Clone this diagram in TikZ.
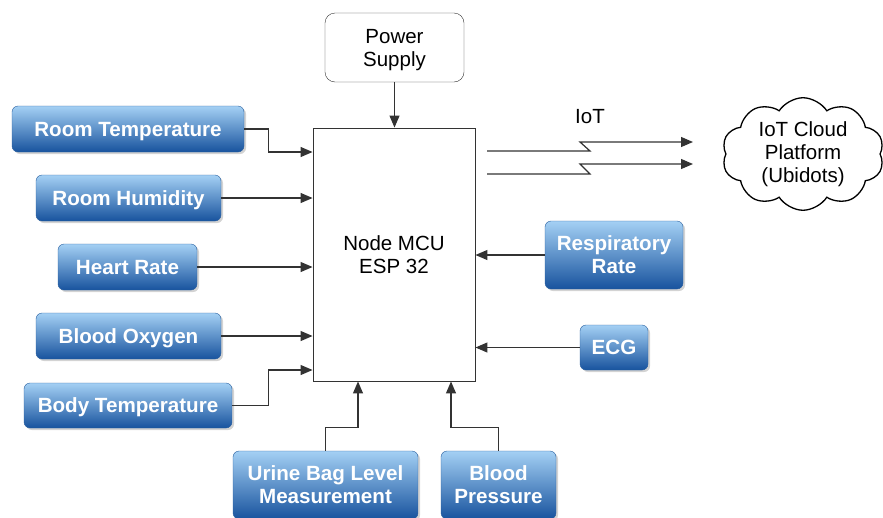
\documentclass[tikz,border=0pt]{standalone}
\usepackage{fontspec}
\setmainfont{Liberation Sans}
\usetikzlibrary{shapes.symbols, arrows.meta, shadows}

\definecolor{boxtop}{HTML}{A4D0F4}
\definecolor{boxmid}{HTML}{3F86D6}
\definecolor{boxbot}{HTML}{18539E}
\definecolor{boxline}{HTML}{2A5F9E}
\definecolor{wire}{HTML}{333333}

\tikzset{
  sensor/.style = {draw = boxline, rounded corners = 6pt, top color = boxtop, middle color = boxmid, bottom color = boxbot,
    text = white, font = \fontsize{20.6}{23}\selectfont\bfseries, align = center, inner sep = 0pt, text depth = 0pt,
    drop shadow = {opacity = 0.35, shadow xshift = 2pt, shadow yshift = -2pt}},
  plain/.style = {draw = wire, font = \fontsize{20.5}{23}\selectfont, align = center, inner sep = 0pt, text depth = 0pt},
  arr/.style = {draw = wire, line width = 1.2pt, -{Triangle[length = 12pt, width = 10pt]}},
}

\begin{document}
\begin{tikzpicture}[x = 1pt, y = -1pt]
\useasboundingbox (0,0) rectangle (883,517);

% main unit and supply
\node[plain, line width = 0.9pt, minimum width = 162pt, minimum height = 253pt] (mcu) at (394,254.5) {Node MCU\\ESP 32};
\node[plain, rounded corners = 10pt, minimum width = 139pt, minimum height = 69pt] (power) at (394.5,47.5) {Power\\Supply};
\draw[arr] (power.south) -- (power.south |- mcu.north);

% sensors on the left
\node[sensor, minimum width = 232pt, minimum height = 46pt] (rtemp) at (128,129) {Room Temperature};
\node[sensor, minimum width = 185pt, minimum height = 46pt] (rhum) at (128.5,198) {Room Humidity};
\node[sensor, minimum width = 139pt, minimum height = 46pt] (heart) at (127.5,267) {Heart Rate};
\node[sensor, minimum width = 185pt, minimum height = 46pt] (oxy) at (128.5,336) {Blood Oxygen};
\node[sensor, minimum width = 208pt, minimum height = 45pt] (btemp) at (128,405.5) {Body Temperature};

% sensors on the right
\node[sensor, minimum width = 138pt, minimum height = 68pt] (resp) at (614,255) {Respiratory\\Rate};
\node[sensor, minimum width = 68pt, minimum height = 45pt] (ecg) at (614,347.5) {ECG};

% sensors below
\node[sensor, minimum width = 185pt, minimum height = 68pt] (urine) at (325.5,485) {Urine Bag Level\\Measurement};
\node[sensor, minimum width = 115pt, minimum height = 68pt] (bp) at (498.5,485) {Blood\\Pressure};

\draw[arr] (rtemp.east) -- ++(24,0) |- (mcu.west |- 0,152);
\draw[arr] (rhum.east) -- (mcu.west |- rhum.east);
\draw[arr] (heart.east) -- (mcu.west |- heart.east);
\draw[arr] (oxy.east) -- (mcu.west |- oxy.east);
\draw[arr] (btemp.east) -- ++(36,0) |- (mcu.west |- 0,370);
\draw[arr] (resp.west) -- (mcu.east |- resp.west);
\draw[arr] (ecg.west) -- (mcu.east |- ecg.west);
\draw[arr] (urine.north) -- ++(0,-23) -| (mcu.south -| 358,0);
\draw[arr] (bp.north) -- ++(0,-23) -| (mcu.south -| 451,0);

% cloud link
\node[draw, cloud, cloud puffs = 10, cloud puff arc = 115, aspect = 1.6, line width = 1.3pt, minimum width = 162pt, minimum height = 106pt,
  font = \fontsize{20.5}{23}\selectfont, align = center, inner sep = 0pt] (cloud) at (803,154) {IoT Cloud\\Platform\\(Ubidots)};
\coordinate (upA) at (487,151);
\coordinate (upB) at (693,142);
\coordinate (loA) at (487,174);
\coordinate (loB) at (693,164);
\draw[arr] (upA) -- (590,151) -- (580,142) -- (upB);
\draw[arr] (loA) -- (590,174) -- (580,164) -- (loB);
\node[font = \fontsize{20.5}{23}\selectfont] (iot) at (590,117) {IoT};

\end{tikzpicture}
\end{document}
